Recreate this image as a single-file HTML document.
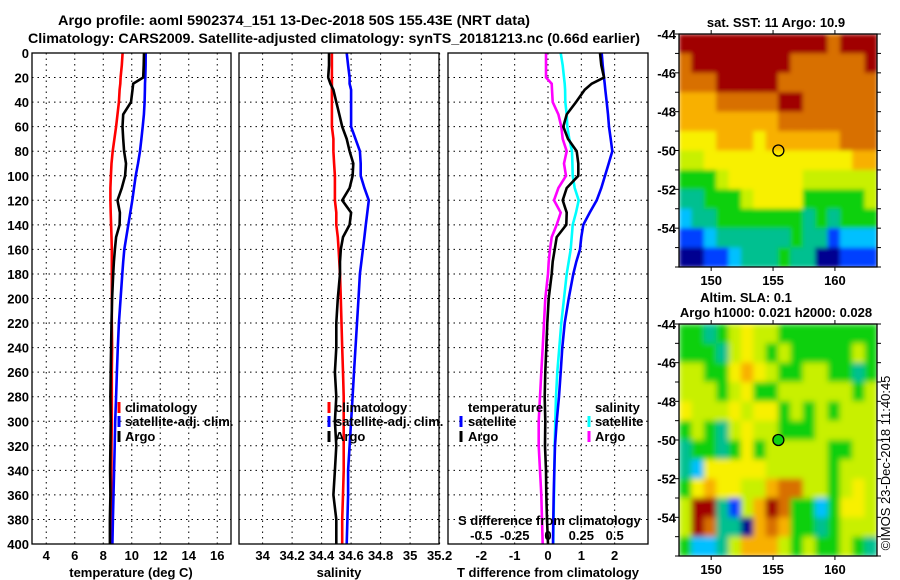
<!DOCTYPE html>
<html><head><meta charset="utf-8"><style>
html,body{margin:0;padding:0;background:#fff;}
svg{display:block;font-family:"Liberation Sans",Arial,sans-serif;font-weight:bold;}
</style></head><body>
<svg id="fig" width="900" height="580" viewBox="0 0 900 580" xmlns="http://www.w3.org/2000/svg">
<defs>
<filter id="blurSla" x="0" y="0" width="1" height="1"><feGaussianBlur stdDeviation="3" edgeMode="duplicate"/></filter>
<filter id="blurSst" x="0" y="0" width="1" height="1"><feGaussianBlur stdDeviation="2" edgeMode="duplicate"/></filter>
<clipPath id="clipSst"><rect x="679" y="34" width="198" height="233"/></clipPath>
<clipPath id="clipSla"><rect x="679" y="324" width="198" height="232"/></clipPath>
</defs>
<text x="58" y="25" font-size="14" textLength="472" lengthAdjust="spacingAndGlyphs">Argo profile: aoml 5902374_151 13-Dec-2018 50S 155.43E (NRT data)</text>
<text x="28" y="43" font-size="14" textLength="612" lengthAdjust="spacingAndGlyphs">Climatology: CARS2009. Satellite-adjusted climatology: synTS_20181213.nc (0.66d earlier)</text>
<g id="layer"></g>
</svg>
<script>
const depth=[0,10,20,25,30,40,50,60,70,80,90,100,110,120,130,140,150,160,170,180,200,220,240,260,280,300,320,340,360,380,400];
const tClim=[9.36,9.3,9.22,9.2,9.15,9.1,9.0,8.9,8.78,8.66,8.58,8.54,8.5,8.5,8.52,8.55,8.58,8.6,8.6,8.6,8.6,8.6,8.62,8.6,8.6,8.6,8.58,8.57,8.56,8.55,8.54];
const tSat=[10.98,10.97,10.95,10.93,10.92,10.9,10.85,10.77,10.68,10.58,10.44,10.28,10.16,10.04,9.9,9.76,9.62,9.48,9.4,9.34,9.22,9.1,9.02,8.96,8.9,8.84,8.8,8.76,8.72,8.68,8.64];
const tArgo=[10.86,10.84,10.8,10.1,10.05,9.95,9.4,9.35,9.4,9.46,9.6,9.53,9.3,9.0,9.17,9.15,8.9,8.82,8.75,8.7,8.62,8.58,8.55,8.52,8.5,8.52,8.5,8.48,8.5,8.47,8.47];
const sClim=[34.47,34.47,34.47,34.47,34.47,34.47,34.47,34.47,34.48,34.48,34.485,34.49,34.49,34.49,34.5,34.5,34.51,34.515,34.52,34.525,34.53,34.535,34.54,34.545,34.55,34.55,34.55,34.55,34.545,34.54,34.54];
const sSat=[34.57,34.58,34.59,34.59,34.6,34.6,34.6,34.6,34.63,34.66,34.665,34.665,34.69,34.72,34.71,34.7,34.69,34.68,34.67,34.66,34.65,34.64,34.63,34.62,34.61,34.6,34.59,34.58,34.58,34.575,34.57];
const sArgo=[34.45,34.45,34.445,34.46,34.48,34.5,34.52,34.54,34.57,34.59,34.615,34.61,34.59,34.54,34.6,34.59,34.545,34.53,34.525,34.525,34.51,34.5,34.5,34.49,34.5,34.49,34.5,34.49,34.48,34.5,34.5];
const dTsat=[1.61,1.64,1.68,1.7,1.72,1.76,1.8,1.83,1.88,1.93,1.82,1.71,1.6,1.46,1.25,1.06,1.0,0.96,0.85,0.76,0.62,0.5,0.43,0.38,0.33,0.26,0.21,0.19,0.17,0.16,0.15];
const dTargo=[1.56,1.6,1.68,1.31,1.1,0.84,0.56,0.46,0.6,0.86,0.91,0.91,0.56,0.44,0.56,0.55,0.26,0.2,0.14,0.11,0.02,-0.02,-0.05,-0.08,-0.1,-0.08,-0.09,-0.06,-0.05,-0.03,0];
const dSargo=[-0.015,-0.015,-0.015,0.028,0.03,0.035,0.078,0.1,0.11,0.14,0.12,0.135,0.078,0.045,0.095,0.065,0.028,0.015,0.005,0,-0.02,-0.03,-0.04,-0.05,-0.06,-0.07,-0.07,-0.06,-0.05,-0.045,-0.04];
const dSsat=[0.095,0.11,0.12,0.125,0.128,0.13,0.14,0.145,0.16,0.18,0.183,0.185,0.2,0.23,0.21,0.185,0.178,0.17,0.155,0.14,0.12,0.1,0.085,0.07,0.06,0.055,0.05,0.048,0.045,0.042,0.04];
const depthTicks=[0,20,40,60,80,100,120,140,160,180,200,220,240,260,280,300,320,340,360,380,400];
const tTicks=[4,6,8,10,12,14,16];
const sTicks=["34","34.2","34.4","34.6","34.8","35","35.2"];
const dTTicks=[-2,-1,0,1,2];
const dSTicks=["-0.5","-0.25","0","0.25","0.5"];
const latTicks=[-44,-46,-48,-50,-52,-54];
const lonTicks=[150,155,160];
const sstGrid=["9999999999998999","8999999998888889","8889999988888888","7778888899888888","7777777788888888","6667776777777888","5566666666666677","4445666666555555","3344456666444445","2334444444343444","1123333334331222","0011233343300111"];
const slaGrid=["4434565544444444","4443565454444454","5544676544554434","5554564455555545","6555656645454555","4543565544455555","3443464555554455","3266666555554555","4676655788554565","5993157984424665","5983307874434555","4223577754544543"];
const palette=["#000090","#0040ff","#00c0ff","#00c090","#10d010","#c8f000","#f8f000","#f8b000","#d87000","#a00000"];

const NS="http://www.w3.org/2000/svg";
const L=document.getElementById('layer');
function mk(tag,attrs,parent){const e=document.createElementNS(NS,tag);for(const k in attrs)e.setAttribute(k,attrs[k]);(parent||L).appendChild(e);return e;}
function txt(x,y,s,anchor,size){const e=mk('text',{x:x,y:y,'font-size':size||13,'text-anchor':anchor||'middle'});e.textContent=s;return e;}
const Y0=53,Y1=544;
const yD=d=>Y0+d*(Y1-Y0)/400;
const xT=t=>32+(t-3)*14.25;
const xS=s=>239+(s-33.84)*147.5;
const xDT=t=>548+t*33.33;
const xDS=s=>548+s*133.33;
const panels=[[32,231],[239,439],[448,648]];

panels.forEach((p,i)=>{
  depthTicks.forEach(d=>{
    const g=mk('line',{x1:p[0],x2:p[1],y1:yD(d),y2:yD(d),stroke:'#000','stroke-width':1,'stroke-dasharray':'1.5,4'});
    
    
  });
});
tTicks.forEach(t=>{const g=mk('line',{x1:xT(t),x2:xT(t),y1:Y0,y2:Y1,stroke:'#000','stroke-dasharray':'1.5,4'});
  
  const l=txt(xT(t),560,String(t));});
sTicks.forEach(s=>{const v=parseFloat(s);const g=mk('line',{x1:xS(v),x2:xS(v),y1:Y0,y2:Y1,stroke:'#000','stroke-dasharray':'1.5,4'});
  
  const l=txt(xS(v),560,s);});
dTTicks.forEach(t=>{const g=mk('line',{x1:xDT(t),x2:xDT(t),y1:Y0,y2:Y1,stroke:'#000','stroke-dasharray':'1.5,4'});
  
  const l=txt(xDT(t),560,String(t));});
depthTicks.forEach(d=>{const l=txt(29,yD(d)+5,String(d),'end');
  });

function series(xs,xf,color,name){
  const pts=xs.map((v,i)=>xf(v).toFixed(1)+','+yD(depth[i]).toFixed(1)).join(' ');
  const e=mk('polyline',{points:pts,fill:'none',stroke:color,'stroke-width':2.6,'stroke-linejoin':'miter'});
  
  
}
series(tClim,xT,'#ff0000','temperature-climatology-line');
series(tSat,xT,'#0000ff','temperature-satellite-line');
series(tArgo,xT,'#000','temperature-argo-line');
series(sClim,xS,'#ff0000','salinity-climatology-line');
series(sSat,xS,'#0000ff','salinity-satellite-line');
series(sArgo,xS,'#000','salinity-argo-line');
series(dSsat,xDS,'#00ffff','sdiff-satellite-line');
series(dSargo,xDS,'#ff00ff','sdiff-argo-line');
series(dTsat,xDT,'#0000ff','tdiff-satellite-line');
series(dTargo,xDT,'#000','tdiff-argo-line');

panels.forEach(p=>{const b=mk('rect',{x:p[0],y:Y0,width:p[1]-p[0],height:Y1-Y0,fill:'none',stroke:'#000','stroke-width':1.3});
  });

function legend(mx,tx,y,color,label){
  const m=mk('rect',{x:mx-1.5,y:y-10,width:3,height:11,fill:color});
  
  const t=txt(tx,y,label,'start');
}
legend(119,125,412,'#ff0000','climatology');legend(119,125,426,'#0000ff','satellite-adj. clim.');legend(119,125,441,'#000','Argo');
legend(329,335,412,'#ff0000','climatology');legend(329,335,426,'#0000ff','satellite-adj. clim.');legend(329,335,441,'#000','Argo');
{const t=txt(468,412,'temperature','start');}
legend(461,468,426,'#0000ff','satellite');legend(461,468,441,'#000','Argo');
{const t=txt(595,412,'salinity','start');}
legend(589,595,426,'#00ffff','satellite');legend(589,595,441,'#ff00ff','Argo');
{const t=txt(458,525,'S difference from climatology','start');}
dSTicks.forEach(s=>{const l=txt(xDS(parseFloat(s)),540,s);});

{let t=txt(131,577,'temperature (deg C)');
 t=txt(339,577,'salinity');
 t=txt(548,577,'T difference from climatology');}

function drawMap(grid,top,bottom,name,clipId,filterId){
  const left=679,right=877,lon0=147.4,lon1=163.4,lat0=-44,lat1=-56;
  const xL=lon=>left+(lon-lon0)*(right-left)/(lon1-lon0);
  const yL=lat=>top+(lat0-lat)*(bottom-top)/(lat0-lat1);
  const rows=grid.length,cols=grid[0].length;
  const cw=(right-left)/cols,ch=(bottom-top)/rows;
  const clipG=mk('g',{'clip-path':'url(#'+clipId+')'});
  
  
  const G=mk('g',{filter:'url(#'+filterId+')'},clipG);
  grid.forEach((row,r)=>{[...row].forEach((c,k)=>{
    const cell=mk('rect',{x:(left+k*cw).toFixed(2),y:(top+r*ch).toFixed(2),width:(cw+0.6).toFixed(2),height:(ch+0.6).toFixed(2),fill:palette[+c]},G);
    
    
  });});
  const f=mk('rect',{x:left,y:top,width:right-left,height:bottom-top,fill:'none',stroke:'#000','stroke-width':1.3});
  
  for(let lat=-44;lat>=-56;lat--){const y=yL(lat);
    const a=mk('line',{x1:left-4,x2:left,y1:y,y2:y,stroke:'#000'});
    const b=mk('line',{x1:right,x2:right+4,y1:y,y2:y,stroke:'#000'});}
  latTicks.forEach(lat=>{const l=txt(676,yL(lat)+5,String(lat),'end');});
  lonTicks.forEach(lon=>{const x=xL(lon);
    const a=mk('line',{x1:x,x2:x,y1:top-4,y2:top,stroke:'#000'});
    const b=mk('line',{x1:x,x2:x,y1:bottom,y2:bottom+4,stroke:'#000'});
    const l=txt(x,bottom+18,String(lon));});
  return {xL,yL};
}
const m1=drawMap(sstGrid,34,267,'sst-map','clipSst','blurSst');
const c1=mk('circle',{cx:m1.xL(155.43),cy:m1.yL(-50),r:5.5,fill:'none',stroke:'#000','stroke-width':1.3});

const m2=drawMap(slaGrid,324,556,'sla-map','clipSla','blurSla');
const c2=mk('circle',{cx:m2.xL(155.43),cy:m2.yL(-50),r:5.5,fill:'#10d010',stroke:'#000','stroke-width':1.3});

{let t=txt(776,27,'sat. SST: 11 Argo: 10.9');
 t=txt(746,302,'Altim. SLA: 0.1');
 t=txt(776,317,'Argo h1000: 0.021 h2000: 0.028');
 t=txt(0,0,'©IMOS 23-Dec-2018 11:40:45','middle',13);t.setAttribute('transform','translate(890,463) rotate(-90)');t.setAttribute('font-weight','normal');
 }
</script>
</body></html>
